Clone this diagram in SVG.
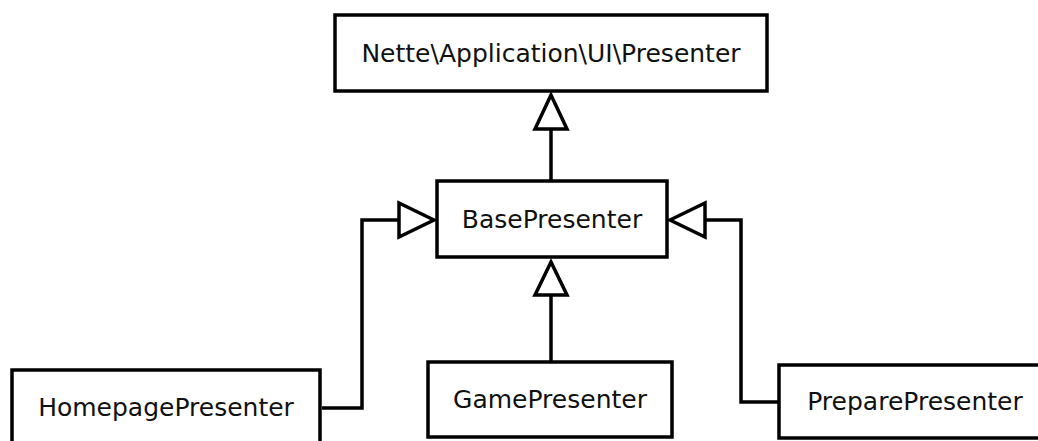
<svg xmlns="http://www.w3.org/2000/svg" width="1038" height="441" viewBox="0 0 1038 441">
<style>
.box{fill:#fff;stroke:#000;stroke-width:3.5}
.lbl{font-family:"DejaVu Sans",sans-serif;font-size:25px;fill:#111;text-anchor:middle}
.edge{fill:none;stroke:#000;stroke-width:3.5}
.head{fill:#fff;stroke:#000;stroke-width:3.5;stroke-linejoin:miter}
</style>
<rect width="1038" height="441" fill="#fff"/>
<g id="connectors">
<path class="edge" d="M551 181 V129"/>
<polygon class="head" points="551,95 535,129 567,129"/>
<path class="edge" d="M322 408 H362 V220 H399"/>
<polygon class="head" points="434,220 399,203 399,237"/>
<path class="edge" d="M779 402 H741 V220 H705"/>
<polygon class="head" points="670,220 705,203 705,237"/>
<path class="edge" d="M551 361 V295"/>
<polygon class="head" points="551,262 535,295 567,295"/>
</g>
<g id="presenter">
<rect class="box" x="335" y="15" width="432" height="76"/>
<text class="lbl" x="551" y="62">Nette\Application\UI\Presenter</text>
</g>
<g id="basepresenter">
<rect class="box" x="437" y="181" width="230" height="76"/>
<text class="lbl" x="552" y="228">BasePresenter</text>
</g>
<g id="homepagepresenter">
<rect class="box" x="12" y="370" width="308" height="90"/>
<text class="lbl" x="166" y="416">HomepagePresenter</text>
</g>
<g id="gamepresenter">
<rect class="box" x="428" y="362" width="244" height="75"/>
<text class="lbl" x="550" y="408">GamePresenter</text>
</g>
<g id="preparepresenter">
<rect class="box" x="779" y="365" width="272" height="73"/>
<text class="lbl" x="915" y="410">PreparePresenter</text>
</g>
</svg>
